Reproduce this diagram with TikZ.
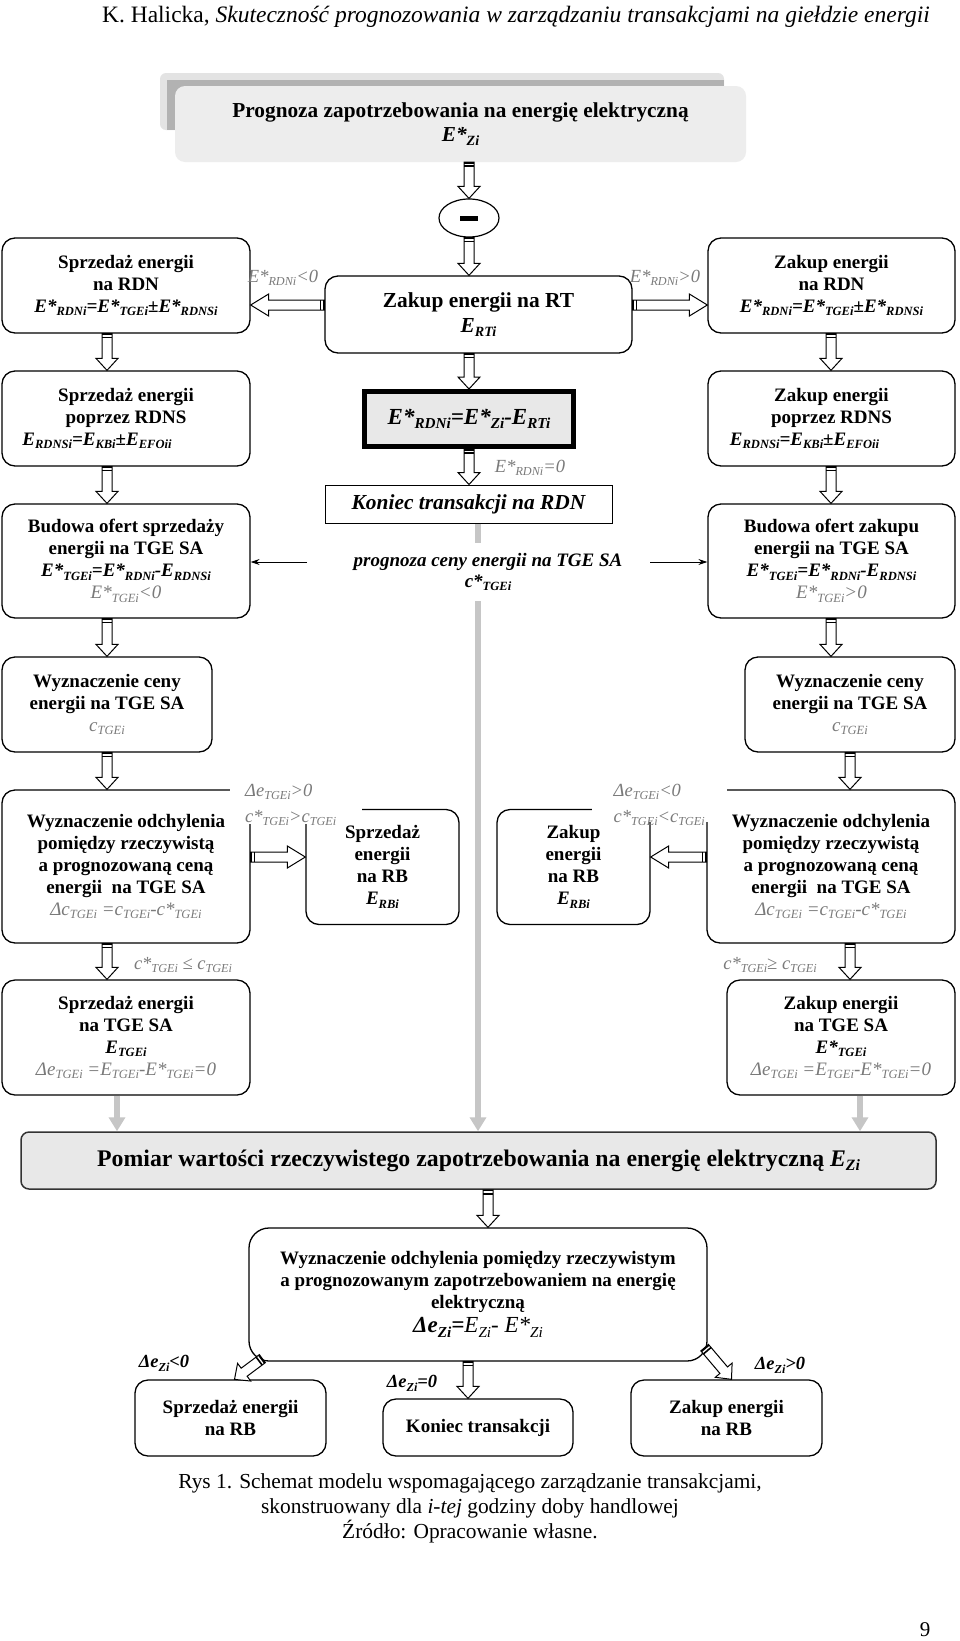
\documentclass[tikz,border=0pt]{standalone}
\usepackage{fontspec}
\setmainfont{Liberation Serif}
\usepackage{graphicx}
\usetikzlibrary{calc,shapes.geometric,arrows.meta}
\definecolor{labgray}{gray}{0.48}
\definecolor{boxgray}{gray}{0.91}
\newcommand\lo[1]{\raisebox{-0.2em}{\scalebox{0.66}{#1}}}
\newcommand\fsz[2]{\fontsize{#1}{#2}\selectfont}
\newcommand\gr[1]{{\color{labgray}\mdseries\itshape #1}}
\tikzset{
  rbox/.style={draw, line width=1.3pt, rounded corners=13pt, align=center, inner sep=0pt, font=\fsz{19}{22}\bfseries},
  lab/.style={inner sep=1pt, font=\fsz{18.5}{26}\itshape, text=labgray, align=left},
  blab/.style={inner sep=1pt, font=\fsz{18.5}{22}\bfseries\itshape},
  bashape/.style={draw, fill=white, line width=1pt, line join=miter},
  garrow/.style={draw=gray!45, line width=6pt, -{Triangle[width=16pt,length=14pt]}},
  tarrow/.style={line width=1pt, -{Stealth[length=9pt,width=6pt]}}
}
\newcommand\barrow[3][12]{%
 \path let \p1=#2, \p2=#3 in \pgfextra{%
   \pgfmathsetmacro\tmpa{atan2(\y2-\y1,\x2-\x1)}\xdef\baang{\tmpa}%
   \pgfmathsetmacro\tmpb{veclen(\x2-\x1,\y2-\y1)}\xdef\balen{\tmpb}%
   \xdef\bax{\x1}\xdef\bay{\y1}};
 \begin{scope}[shift={(\bax,\bay)}, rotate=\baang]
  \draw[bashape] (0,-5) -- ({\balen-#1},-5) -- ({\balen-#1},-11) -- (\balen,0) -- ({\balen-#1},11) -- ({\balen-#1},5) -- (0,5) -- cycle;
  \fill (0,-5) rectangle (1.6,5); \fill (3.2,-5) rectangle (4.8,5);
 \end{scope}}
\begin{document}
\begin{tikzpicture}[x=1pt,y=-1pt]
\useasboundingbox[fill=white] (0,0) rectangle (960,1641);

% header
\node[font=\fsz{23.5}{26}] (hdr) at (516,17) {K. Halicka, \textit{Skuteczność prognozowania w zarządzaniu transakcjami na giełdzie energii}};

% top box with shadow
\fill[gray!22, rounded corners=6pt] (160,73) rectangle (724,130);
\fill[gray!60] (167,80) rectangle (724,130);
\node[fill=gray!14, rounded corners=10pt, minimum width=571pt, minimum height=76pt, inner sep=0pt, align=center, font=\fsz{21.3}{24}\bfseries] (top) at (460.5,124) {Prognoza zapotrzebowania na energię elektryczną\\{\itshape E*\lo{Zi}}};

\node[draw, ellipse, line width=1.2pt, minimum width=60pt, minimum height=38pt, inner sep=0pt] (ell) at (469,218) {};
\fill ([xshift=-9pt,yshift=-2.5pt]ell.center) rectangle ([xshift=9pt,yshift=2.5pt]ell.center);

\node[rbox, minimum width=307pt, minimum height=77pt, font=\fsz{21.4}{25}\bfseries] (rt) at (478.5,314.5) {Zakup energii na RT\\{\itshape E\lo{RTi}}};

\node[rbox, minimum width=248pt, minimum height=95pt] (L1) at (126,285.5) {Sprzedaż energii\\na RDN\\{\itshape E*\lo{RDNi}=E*\lo{TGEi}±E*\lo{RDNSi}}};
\node[rbox, minimum width=247pt, minimum height=95pt] (R1) at (831.5,285.5) {Zakup energii\\na RDN\\{\itshape E*\lo{RDNi}=E*\lo{TGEi}±E*\lo{RDNSi}}};
\node[rbox, minimum width=248pt, minimum height=95pt] (L2) at (126,418.5) {Sprzedaż energii\\poprzez RDNS\\{\itshape E\lo{RDNSi}=E\lo{KBi}±E\lo{EFOii}}\hspace*{58pt}\null};
\node[rbox, minimum width=247pt, minimum height=95pt] (R2) at (831.5,418.5) {Zakup energii\\poprzez RDNS\\{\itshape E\lo{RDNSi}=E\lo{KBi}±E\lo{EFOii}}\hspace*{54pt}\null};
\node[rbox, minimum width=248pt, minimum height=114pt] (L3) at (126,561) {Budowa ofert sprzedaży\\energii na TGE SA\\{\itshape E*\lo{TGEi}=E*\lo{RDNi}-E\lo{RDNSi}}\\\gr{E*\lo{TGEi}<0}};
\node[rbox, minimum width=247pt, minimum height=114pt] (R3) at (831.5,561) {Budowa ofert zakupu\\energii na TGE SA\\{\itshape E*\lo{TGEi}=E*\lo{RDNi}-E\lo{RDNSi}}\\\gr{E*\lo{TGEi}>0}};

\node[draw, line width=5pt, fill=gray!18, minimum width=209pt, minimum height=55pt, inner sep=0pt, font=\fsz{23}{26}\bfseries\itshape] (form) at (469,419) {E*\lo{RDNi}=E*\lo{Zi}-E\lo{RTi}};
\node[draw, line width=1pt, minimum width=287pt, minimum height=38pt, inner sep=0pt, font=\fsz{21.4}{24}\bfseries\itshape] (kon) at (468.5,504) {Koniec transakcji na RDN};

\node[rbox, minimum width=210pt, minimum height=95pt] (L4) at (107,704.5) {Wyznaczenie ceny\\energii na TGE SA\\\gr{c\lo{TGEi}}};
\node[rbox, minimum width=210pt, minimum height=95pt] (R4) at (850,704.5) {Wyznaczenie ceny\\energii na TGE SA\\\gr{c\lo{TGEi}}};
\node[rbox, minimum width=248pt, minimum height=153pt] (L5) at (126,866.5) {Wyznaczenie odchylenia\\pomiędzy rzeczywistą\\a prognozowaną ceną\\energii\ \ na TGE SA\\\gr{Δc\lo{TGEi} =c\lo{TGEi}-c*\lo{TGEi}}};
\node[rbox, minimum width=248pt, minimum height=153pt] (R5) at (831,866.5) {Wyznaczenie odchylenia\\pomiędzy rzeczywistą\\a prognozowaną ceną\\energii\ \ na TGE SA\\\gr{Δc\lo{TGEi} =c\lo{TGEi}-c*\lo{TGEi}}};
\node[rbox, minimum width=153pt, minimum height=115pt] (LRB) at (382.5,867) {Sprzedaż\\energii\\na RB\\{\itshape E\lo{RBi}}};
\node[rbox, minimum width=153pt, minimum height=115pt] (RRB) at (573.5,867) {Zakup\\energii\\na RB\\{\itshape E\lo{RBi}}};
\node[rbox, minimum width=248pt, minimum height=115pt] (L6) at (126,1037.5) {Sprzedaż energii\\na TGE SA\\{\itshape E\lo{TGEi}}\\\gr{Δe\lo{TGEi} =E\lo{TGEi}-E*\lo{TGEi}=0}};
\node[rbox, minimum width=228pt, minimum height=115pt] (R6) at (841,1037.5) {Zakup energii\\na TGE SA\\{\itshape E*\lo{TGEi}}\\\gr{Δe\lo{TGEi} =E\lo{TGEi}-E*\lo{TGEi}=0}};

\node[draw=black!80, line width=1.5pt, fill=boxgray, rounded corners=8pt, minimum width=915pt, minimum height=57pt, inner sep=0pt, font=\fsz{23.8}{26}\bfseries] (pom) at (478.5,1160.5) {Pomiar wartości rzeczywistego zapotrzebowania na energię elektryczną {\itshape E\lo{Zi}}};
\node[rbox, rounded corners=20pt, minimum width=458pt, minimum height=133pt, font=\fsz{19}{22}\bfseries] (od2) at (478,1294.5) {Wyznaczenie odchylenia pomiędzy rzeczywistym\\a prognozowanym zapotrzebowaniem na energię\\elektryczną\\[2pt]{\fsz{23}{26}\itshape Δe\lo{Zi}={\mdseries E\lo{Zi}- E*\lo{Zi}}}};
\node[rbox, minimum width=191pt, minimum height=76pt] (sRB) at (230.5,1418) {Sprzedaż energii\\na RB};
\node[rbox, minimum width=190pt, minimum height=57pt] (kt) at (478,1427.5) {Koniec transakcji};
\node[rbox, minimum width=191pt, minimum height=76pt] (zRB) at (726.5,1418) {Zakup energii\\na RB};

% helper coordinates
\coordinate (lx) at (107,0);
\coordinate (rx) at (831,0);
\coordinate (rx2) at (850,0);
\coordinate (cx) at (469,0);
\coordinate (gx) at (478,0);
\coordinate (glx) at (117,0);
\coordinate (grx) at (860,0);
\coordinate (bx) at (488,0);
\coordinate (kx) at (468,0);
\coordinate (hy) at (0,305);
\coordinate (hy2) at (0,857);
\coordinate (pa) at (307,562);
\coordinate (pb) at (650,562);

% gray arrows
\draw[garrow] (kon.south -| gx) -- (pom.north -| gx);
\draw[garrow] (L6.south -| glx) -- (pom.north -| glx);
\draw[garrow] (R6.south -| grx) -- (pom.north -| grx);

\node[fill=white, inner xsep=4pt, inner ysep=10pt, align=center, font=\fsz{19}{21}\bfseries\itshape] (prog) at (488,572) {prognoza ceny energii na TGE SA\\c*\lo{TGEi}};
\draw[tarrow] (pa) -- (L3.east |- pa);
\draw[tarrow] (pb) -- (R3.west |- pb);

% block arrows
\barrow{(top.south -| ell.north)}{(ell.north)}
\barrow{(ell.south)}{(rt.north -| ell.south)}
\barrow[18]{(rt.west |- hy)}{(L1.east |- hy)}
\barrow[18]{(rt.east |- hy)}{(R1.west |- hy)}
\barrow{(rt.south -| cx)}{(form.north -| cx)}
\barrow{(form.south -| cx)}{(kon.north -| cx)}
\barrow{(L1.south -| lx)}{(L2.north -| lx)}
\barrow{(L2.south -| lx)}{(L3.north -| lx)}
\barrow{(L3.south -| lx)}{(L4.north -| lx)}
\barrow{(L4.south -| lx)}{(L5.north -| lx)}
\barrow{(L5.south -| lx)}{(L6.north -| lx)}
\barrow{(R1.south -| rx)}{(R2.north -| rx)}
\barrow{(R2.south -| rx)}{(R3.north -| rx)}
\barrow{(R3.south -| rx)}{(R4.north -| rx)}
\barrow{(R4.south -| rx2)}{(R5.north -| rx2)}
\barrow{(R5.south -| rx2)}{(R6.north -| rx2)}
\barrow[18]{(L5.east |- hy2)}{(LRB.west |- hy2)}
\barrow[18]{(R5.west |- hy2)}{(RRB.east |- hy2)}
\barrow{(pom.south -| bx)}{(od2.north -| bx)}
\barrow{(od2.south -| kx)}{(kt.north -| kx)}
\barrow{([xshift=14pt,yshift=3pt]od2.south west)}{([xshift=4pt]sRB.north)}
\barrow{([xshift=-3pt,yshift=14pt]od2.south east)}{([xshift=5pt]zRB.north)}

% masks + labels
\fill[white] (230,779) rectangle (362,824);
\fill[white] (592,779) rectangle (727,822);
\node[lab, anchor=west] (lab4) at (244,805) {Δe\lo{TGEi}>0\\c*\lo{TGEi}>c\lo{TGEi}};
\node[lab, anchor=east] (lab5) at (706,805) {Δe\lo{TGEi}<0\\c*\lo{TGEi}<c\lo{TGEi}};
\node[lab] (lab1) at (283,278) {E*\lo{RDNi}<0};
\node[lab] (lab2) at (665,278) {E*\lo{RDNi}>0};
\node[lab] (lab3) at (530,468) {E*\lo{RDNi}=0};
\node[lab] (lab6) at (183,965) {c*\lo{TGEi} ≤ c\lo{TGEi}};
\node[lab] (lab7) at (770,965) {c*\lo{TGEi}≥ c\lo{TGEi}};
\node[blab] (lab8) at (164,1363) {Δe\lo{Zi}<0};
\node[blab] (lab9) at (412,1383) {Δe\lo{Zi}=0};
\node[blab] (lab10) at (780,1365) {Δe\lo{Zi}>0};

% caption
\node[align=center, font=\fsz{21.4}{25}] (cap) at (470,1508) {Rys 1. Schemat modelu wspomagającego zarządzanie transakcjami,\\skonstruowany dla \textit{i-tej} godziny doby handlowej\\Źródło: Opracowanie własne.};
\node[font=\fsz{21}{24}] (pg) at (925,1630) {9};
\end{tikzpicture}
\end{document}
